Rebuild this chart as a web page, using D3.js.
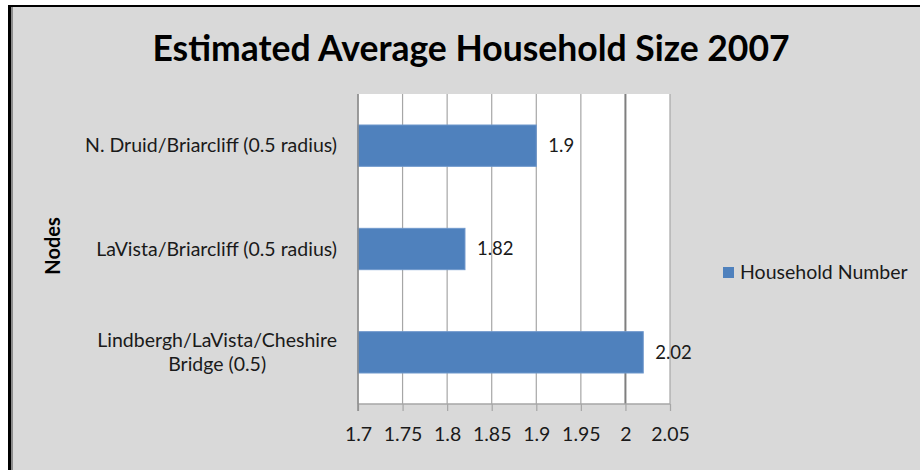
<!DOCTYPE html>
<html>
<head>
<meta charset="utf-8">
<script src="https://cdn.jsdelivr.net/npm/d3@7"></script>
<style>
  body { margin: 0; background: #fff; }
  svg { display: block; font-family: Lato, "Noto Sans", sans-serif; }
</style>
</head>
<body>
<svg id="chart" width="920" height="470"></svg>
<script>
// chart data
const nodes = [
  ["N. Druid/Briarcliff (0.5 radius)"],
  ["LaVista/Briarcliff (0.5 radius)"],
  ["Lindbergh/LaVista/Cheshire", "Bridge (0.5)"]
];
const householdSize = [1.9, 1.82, 2.02];
const xTicks = [1.7, 1.75, 1.8, 1.85, 1.9, 1.95, 2, 2.05];
const title = "Estimated Average Household Size 2007";
const seriesName = "Household Number";
const axisTitle = "Nodes";

const svg = d3.select('#chart');
const width = 920, height = 470;
const barColor = '#4f81bd';

// frame + background
svg.append('rect').attr('x', 8).attr('y', 5).attr('width', width - 8).attr('height', height - 5).attr('fill', '#000');
svg.append('rect').attr('x', 11).attr('y', 7).attr('width', width - 11).attr('height', height - 7).attr('fill', '#8c8c8c');
svg.append('rect').attr('x', 13).attr('y', 7).attr('width', width - 13).attr('height', height - 7).attr('fill', '#d9d9d9');

const plot = { left: 358, right: 670, top: 94, bottom: 404 };

const x = d3.scaleLinear().domain([1.7, 2.05]).range([plot.left, plot.right]);
const y = d3.scaleBand().domain(d3.range(nodes.length))
  .range([plot.top, plot.bottom]).paddingInner(0.6).paddingOuter(0.3);

// plot area
svg.append('rect')
  .attr('x', plot.left).attr('y', plot.top)
  .attr('width', plot.right - plot.left).attr('height', plot.bottom - plot.top)
  .attr('fill', '#fff');

// gridlines
svg.append('g')
  .selectAll('line')
  .data(xTicks)
  .enter().append('line')
  .attr('x1', d => x(d)).attr('x2', d => x(d))
  .attr('y1', plot.top).attr('y2', plot.bottom)
  .attr('stroke', d => d === 2 ? '#7f7f7f' : '#a6a6a6')
  .attr('stroke-width', d => d === 2 ? 2 : 1.2);

// bars
svg.append('g')
  .selectAll('rect')
  .data(householdSize)
  .enter().append('rect')
  .attr('x', plot.left)
  .attr('y', (d, i) => y(i))
  .attr('width', d => x(d) - plot.left)
  .attr('height', y.bandwidth())
  .attr('fill', barColor)
  .attr('stroke', '#6f98cc')
  .attr('stroke-width', 1);

// value labels
svg.append('g')
  .selectAll('text')
  .data(householdSize)
  .enter().append('text')
  .attr('x', d => x(d) + 12)
  .attr('y', (d, i) => y(i) + y.bandwidth() / 2)
  .attr('dy', '0.35em')
  .attr('font-size', 18.5)
  .attr('fill', '#1a1a1a')
  .text(d => d);

// x axis
const xAxis = svg.append('g')
  .attr('transform', `translate(0,${plot.bottom})`)
  .call(d3.axisBottom(x).tickValues(xTicks).tickSize(7).tickPadding(16).tickFormat(d3.format('')));
xAxis.select('.domain').attr('stroke', '#a6a6a6').attr('stroke-width', 1.5).attr('d', `M${plot.left},0H${plot.right}`);
xAxis.selectAll('.tick line').attr('stroke', '#a6a6a6').attr('stroke-width', 1.2);
xAxis.selectAll('.tick text')
  .attr('font-size', 19.5).attr('fill', '#1a1a1a')
  .attr('font-family', 'Lato, "Noto Sans", sans-serif');

// left edge of plot
svg.append('line')
  .attr('x1', plot.left).attr('x2', plot.left)
  .attr('y1', plot.top).attr('y2', plot.bottom + 7)
  .attr('stroke', '#8c8c8c').attr('stroke-width', 1.5);

// category labels
const catG = svg.append('g');
nodes.forEach((lines, i) => {
  const cy = y(i) + y.bandwidth() / 2;
  const lh = 24;
  const t = catG.append('text')
    .attr('font-size', 19.5)
    .attr('fill', '#1a1a1a');
  lines.forEach((ln, j) => {
    t.append('tspan')
      .attr('y', cy + (j - (lines.length - 1) / 2) * lh)
      .attr('dy', '0.35em')
      .text(ln);
  });
  // right-align the block, centre lines within it
  const spans = t.selectAll('tspan').nodes();
  const maxW = d3.max(spans, s => s.getComputedTextLength());
  const cx = 337 - maxW / 2;
  t.attr('text-anchor', 'middle');
  t.selectAll('tspan').attr('x', cx);
});

// axis title
svg.append('text')
  .attr('transform', 'translate(60,246) rotate(-90)')
  .attr('text-anchor', 'middle')
  .attr('font-size', 20)
  .attr('font-weight', 'bold')
  .attr('fill', '#000')
  .text(axisTitle);

// chart title
svg.append('text')
  .attr('x', 471).attr('y', 61)
  .attr('text-anchor', 'middle')
  .attr('font-size', 35.5)
  .attr('font-weight', 'bold')
  .attr('fill', '#000')
  .text(title);

// legend
const legend = svg.append('g').attr('transform', 'translate(723,267)');
legend.append('rect').attr('width', 11).attr('height', 11).attr('fill', barColor);
legend.append('text')
  .attr('x', 17).attr('y', 5.5).attr('dy', '0.35em')
  .attr('font-size', 19.5).attr('fill', '#1a1a1a')
  .text(seriesName);
</script>
</body>
</html>
